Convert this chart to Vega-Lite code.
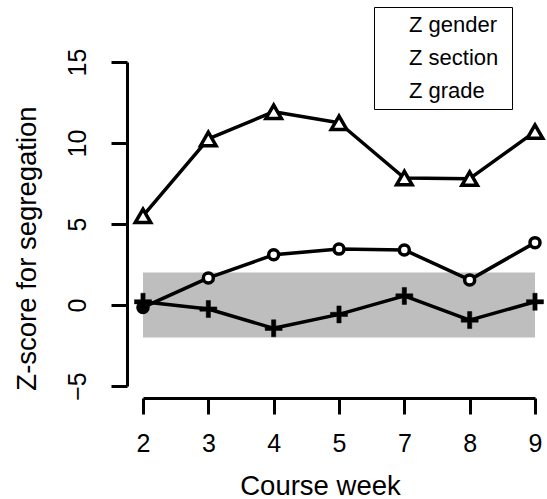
{
  "$schema": "https://vega.github.io/schema/vega-lite/v6.json",
  "width": 392,
  "height": 324,
  "autosize": {"type": "none"},
  "padding": {"left": 143, "top": 62, "right": 12, "bottom": 113},
  "background": "white",
  "config": {
    "view": {"stroke": null},
    "font": "Liberation Sans",
    "legend": {"labelFontSize": 22, "labelColor": "black", "labelOffset": 6, "padding": 7, "rowPadding": 11, "strokeColor": "black", "fillColor": "white", "symbolSize": 110, "symbolStrokeWidth": 2.5, "symbolStrokeColor": "black", "symbolOpacity": 1},
    "axis": {"grid": false, "domainColor": "black", "tickColor": "black", "labelColor": "black", "titleColor": "black", "domainWidth": 3, "tickWidth": 3, "tickSize": 16, "labelFontSize": 25, "titleFontSize": 27.5, "titleFontWeight": "normal", "labelFont": "Liberation Sans", "titleFont": "Liberation Sans", "labelOverlap": false, "labelFlush": false}
  },
  "datasets": {
    "z": [
      {"week": 2, "series": "gender", "z": -0.15},
      {"week": 3, "series": "gender", "z": 1.67},
      {"week": 4, "series": "gender", "z": 3.1},
      {"week": 5, "series": "gender", "z": 3.45},
      {"week": 7, "series": "gender", "z": 3.4},
      {"week": 8, "series": "gender", "z": 1.55},
      {"week": 9, "series": "gender", "z": 3.85},
      {"week": 2, "series": "section", "z": 5.5},
      {"week": 3, "series": "section", "z": 10.25},
      {"week": 4, "series": "section", "z": 11.93},
      {"week": 5, "series": "section", "z": 11.25},
      {"week": 7, "series": "section", "z": 7.84},
      {"week": 8, "series": "section", "z": 7.8},
      {"week": 9, "series": "section", "z": 10.7},
      {"week": 2, "series": "grade", "z": 0.2},
      {"week": 3, "series": "grade", "z": -0.25},
      {"week": 4, "series": "grade", "z": -1.44},
      {"week": 5, "series": "grade", "z": -0.58},
      {"week": 7, "series": "grade", "z": 0.56},
      {"week": 8, "series": "grade", "z": -0.93},
      {"week": 9, "series": "grade", "z": 0.2}
    ],
    "band": [{"from": 2, "to": 9, "lo": -2, "hi": 2}]
  },
  "layer": [
    {
      "data": {"name": "band"},
      "mark": {"type": "rect", "color": "#BEBEBE"},
      "encoding": {
        "x": {"field": "from", "type": "ordinal", "scale": {"type": "point", "domain": [2, 3, 4, 5, 7, 8, 9], "padding": 0}, "axis": {"title": "Course week", "offset": 12, "labelAngle": 0, "labelPadding": 17, "titleX": 177, "titleY": 96, "titleAlign": "center", "titleBaseline": "alphabetic"}},
        "x2": {"field": "to"},
        "y": {"field": "lo", "type": "quantitative", "scale": {"domain": [-5, 15], "nice": false, "zero": false}, "axis": {"title": "Z-score for segregation", "values": [-5, 0, 5, 10, 15], "offset": 16, "labelAngle": -90, "labelAlign": "center", "labelBaseline": "alphabetic", "labelPadding": 26, "titleAngle": -90, "titleX": -92, "titleY": 186, "titleAlign": "center", "titleBaseline": "alphabetic"}},
        "y2": {"field": "hi"}
      }
    },
    {
      "data": {"name": "z"},
      "mark": {"type": "line", "color": "black", "strokeWidth": 3.5, "strokeJoin": "round"},
      "encoding": {
        "x": {"field": "week", "type": "ordinal"},
        "y": {"field": "z", "type": "quantitative"},
        "detail": {"field": "series"}
      }
    },
    {
      "data": {"name": "z"},
      "mark": {"type": "point", "filled": false, "color": "black", "opacity": 1},
      "encoding": {
        "x": {"field": "week", "type": "ordinal"},
        "y": {"field": "z", "type": "quantitative"},
        "shape": {"field": "series", "type": "nominal", "scale": {"domain": ["gender", "section", "grade"], "range": ["circle", "triangle-up", "M-1,-0.25H-0.25V-1H0.25V-0.25H1V0.25H0.25V1H-0.25V0.25H-1Z"]},
          "legend": {"title": null, "orient": "none", "legendX": 231, "legendY": -55, "labelExpr": "'Z  ' + datum.label"}},
        "strokeWidth": {"condition": {"test": "datum.series == 'grade'", "value": 0.5}, "value": 3.5},
        "fill": {"condition": {"test": "datum.series == 'grade'", "value": "black"}, "value": "white"},
        "size": {"condition": [{"test": "datum.series == 'gender'", "value": 100}, {"test": "datum.series == 'grade'", "value": 289}], "value": 240}
      }
    },
    {
      "data": {"name": "z"},
      "transform": [{"filter": "datum.week == 2 && datum.series == 'gender'"}],
      "mark": {"type": "point", "shape": "circle", "filled": true, "color": "black", "size": 150, "opacity": 1},
      "encoding": {
        "x": {"field": "week", "type": "ordinal"},
        "y": {"field": "z", "type": "quantitative"}
      }
    }
  ]
}
